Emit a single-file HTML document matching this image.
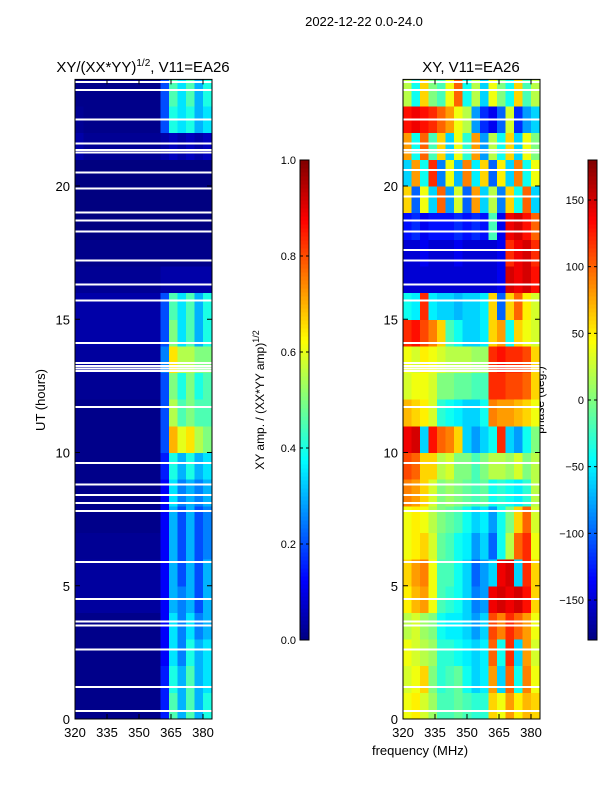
<!DOCTYPE html>
<html><head><meta charset="utf-8"><style>
body{margin:0;background:#fff;font-family:"Liberation Sans",sans-serif}
svg{display:block}
text{font-family:"Liberation Sans",sans-serif;fill:#000}
</style></head><body>
<svg id="s" width="600" height="800" xmlns="http://www.w3.org/2000/svg">
<text x="364" y="26" font-size="13" text-anchor="middle">2022-12-22 0.0-24.0</text>
<text x="143" y="72" font-size="15" text-anchor="middle">XY/(XX*YY)<tspan dy="-6" font-size="10">1/2</tspan><tspan dy="6">, V11=EA26</tspan></text>
<text x="471" y="72" font-size="15" text-anchor="middle">XY, V11=EA26</text>
<text transform="translate(45,400) rotate(-90)" font-size="13" text-anchor="middle">UT (hours)</text>
<text x="420" y="755" font-size="13" text-anchor="middle">frequency (MHz)</text>
<text transform="translate(264,400) rotate(-90)" font-size="12" text-anchor="middle">XY amp. / (XX*YY amp)<tspan dy="-5" font-size="9">1/2</tspan></text>
<text transform="translate(544,400) rotate(-90)" font-size="12" text-anchor="middle">phase (deg.)</text>
<g id="g"></g>
</svg>
<script>
const freqEdges=[320,324,328,332,336,340,344,348,352,356,360,364,368,372,376,380,384];
const hourEdges=[0,1,2,3,4,5,6,7,8,9,10,11,12,13,14,15,16,17,18,19,20,21,22,23,24];
const xTicks=[320,335,350,365,380];
const yTicks=[0,5,10,15,20];
const ampTicks=[0.0,0.2,0.4,0.6,0.8,1.0];
const phaseTicks=[-150,-100,-50,0,50,100,150];
// amplitude rows (hour 0 -> 23), 16 freq bins
const ampRows=[
[.01,.01,.01,.01,.01,.01,.01,.01,.01,.01,.15,.45,.3,.45,.3,.4],
[.01,.01,.01,.01,.01,.01,.01,.01,.01,.01,.15,.4,.3,.45,.3,.35],
[.01,.01,.01,.01,.01,.01,.01,.01,.01,.01,.12,.35,.25,.4,.3,.35],
[.01,.01,.01,.01,.01,.01,.01,.01,.01,.01,.12,.35,.25,.35,.25,.3],
[.03,.03,.03,.03,.03,.03,.03,.03,.03,.03,.12,.3,.25,.3,.2,.3],
[.03,.03,.03,.03,.03,.03,.03,.03,.03,.03,.12,.3,.2,.3,.2,.3],
[.02,.02,.02,.02,.02,.02,.02,.02,.02,.02,.12,.3,.2,.3,.2,.25],
[.01,.01,.01,.01,.01,.01,.01,.01,.01,.01,.12,.3,.2,.3,.2,.25],
[.01,.01,.01,.01,.01,.01,.01,.01,.01,.01,.12,.35,.25,.3,.25,.3],
[.01,.01,.01,.01,.01,.01,.01,.01,.01,.01,.15,.4,.3,.4,.3,.35],
[.01,.01,.01,.01,.01,.01,.01,.01,.01,.01,.2,.7,.6,.65,.55,.5],
[.01,.01,.01,.01,.01,.01,.01,.01,.01,.01,.2,.55,.45,.5,.45,.45],
[.02,.02,.02,.02,.02,.02,.02,.02,.02,.02,.2,.5,.4,.5,.4,.45],
[.03,.03,.03,.03,.03,.03,.03,.03,.03,.03,.25,.65,.55,.55,.5,.5],
[.04,.04,.04,.04,.04,.04,.04,.04,.04,.04,.2,.5,.35,.45,.3,.4],
[.04,.04,.04,.04,.04,.04,.04,.04,.04,.04,.2,.45,.35,.45,.3,.4],
[.02,.02,.02,.02,.02,.02,.02,.02,.02,.02,.04,.04,.04,.04,.04,.04],
[.01,.01,.01,.01,.01,.01,.01,.01,.01,.01,.01,.01,.01,.01,.01,.01],
[0,0,0,0,0,0,0,0,0,0,0,0,0,0,0,0],
[0,0,0,0,0,0,0,0,0,0,0,0,0,0,0,0],
[0,0,0,0,0,0,0,0,0,0,0,0,0,0,0,0],
[.04,.02,.02,.02,.02,.02,.02,.02,.02,.02,.04,.06,.04,.06,.04,.06],
[.02,.01,.01,.01,.01,.01,.01,.01,.01,.01,.2,.4,.35,.4,.3,.35],
[.01,.01,.01,.01,.01,.01,.01,.01,.01,.01,.2,.45,.35,.45,.3,.4]];
// phase rows (deg), hour 0 -> 23
const phaseRows=[
[40,50,30,10,-20,-20,-10,-20,-30,-30,60,40,80,50,70,60],
[30,40,60,0,-30,-20,-10,-40,-60,-50,80,-60,100,-40,90,40],
[40,30,20,10,-30,-30,-40,-50,-60,-50,100,-40,120,-60,80,30],
[20,30,10,0,-40,-50,-50,-60,-80,-60,110,90,120,100,80,40],
[50,70,80,40,-20,-30,-40,-60,-90,-80,140,150,140,150,130,60],
[60,80,90,40,-20,-20,-40,-60,-100,-80,-60,140,150,-60,120,60],
[40,50,60,30,-10,-20,-40,-50,-80,-60,-100,-40,20,100,120,40],
[40,50,40,20,0,-10,-20,-40,-60,-50,-80,-40,0,60,100,30],
[90,80,60,30,0,10,0,-10,-20,-10,-40,-30,-40,-50,-30,20],
[110,100,60,60,20,30,0,0,-20,0,20,20,10,30,0,20],
[140,150,-60,130,100,90,60,-60,-80,-60,-40,120,-60,-80,-40,0],
[70,60,50,30,-30,-40,-50,-60,-60,-40,90,80,80,70,60,40],
[30,40,40,30,0,0,-10,-10,-20,-20,120,120,110,110,100,60],
[40,30,50,40,30,20,20,20,10,10,120,130,120,120,110,60],
[120,130,110,90,60,-20,-40,-60,-60,-50,60,80,-40,60,40,30],
[-40,-50,120,-50,-60,-60,-70,-60,-60,-50,60,-100,60,100,50,30],
[-150,-150,-150,-150,-150,-150,-150,-150,-150,-150,-150,-140,150,140,150,130],
[-150,-150,-140,-150,-150,-150,-140,-150,-150,-150,-150,-140,120,140,150,120],
[-130,-120,-140,-130,-130,-130,-120,-130,-120,-130,-20,-140,140,150,130,100],
[60,-100,40,-60,100,-80,30,-100,80,-60,20,-90,60,-40,100,-60],
[-60,80,-40,120,-90,40,-70,90,-50,60,-100,50,-60,90,-40,40],
[80,-40,100,-20,60,-60,40,-30,80,-80,20,-40,60,-60,40,0],
[130,140,130,120,100,80,40,20,-80,-120,-140,-100,30,-120,-80,-60],
[20,-40,60,0,-20,40,100,-40,20,-60,40,0,-40,60,-20,20]];
const ampGaps=[0.3,1.2,2.6,3.5,3.65,4.5,5.9,7.8,8.1,8.4,8.8,9.6,11.7,13.05,13.15,13.25,13.35,14.1,15.7,16.3,17.2,18.3,18.7,19.0,19.9,20.5,21.25,21.35,21.6,22.5,23.6,23.9];
const phaseGaps=[0.3,1.2,2.6,3.5,3.65,4.5,5.9,7.8,8.1,8.4,8.8,9.6,11.7,13.05,13.15,13.25,13.35,14.1,15.7,16.3,17.2,17.6,18.3,18.7,19.6,20.6,21.25,21.35,21.6,22.5,23.6,23.9];

const NS='http://www.w3.org/2000/svg';
const g=document.getElementById('g');
function el(t,a,p){const e=document.createElementNS(NS,t);for(const k in a)e.setAttribute(k,a[k]);(p||g).appendChild(e);return e;}
function jet(v){v=Math.max(0,Math.min(1,v));
 const r=Math.max(0,Math.min(1,1.5-Math.abs(4*v-3))),gg=Math.max(0,Math.min(1,1.5-Math.abs(4*v-2))),b=Math.max(0,Math.min(1,1.5-Math.abs(4*v-1)));
 return `rgb(${Math.round(r*255)},${Math.round(gg*255)},${Math.round(b*255)})`;}
const Y0=719,YH=(719-186)/20;
const yScale=h=>Y0-h*YH;
function panel(x0,rows,norm,gaps,name){
 const xScale=f=>x0+(f-320)*128/60;
 const grp=el('g',{'shape-rendering':'crispEdges'});
 
 
 rows.forEach((row,i)=>{row.forEach((v,j)=>{
  const x1=xScale(freqEdges[j]),x2=xScale(freqEdges[j+1]),y1=yScale(hourEdges[i+1]),y2=yScale(hourEdges[i]);
  const r=el('rect',{x:x1,y:y1,width:x2-x1+0.5,height:y2-y1+0.5,fill:jet(norm(v))},grp);
  
  
 });});
 gaps.forEach(h=>{const r=el('rect',{x:x0,y:yScale(h)-1,width:137,height:2,fill:'#fff'},grp);
  
  });
 const f=el('rect',{x:x0,y:yScale(24),width:137,height:yScale(0)-yScale(24),fill:'none',stroke:'#000','stroke-width':1});
 
 
 xTicks.forEach(t=>{const x=xScale(t);
  el('line',{x1:x,x2:x,y1:719,y2:714,stroke:'#000'});el('line',{x1:x,x2:x,y1:yScale(24),y2:yScale(24)+5,stroke:'#000'});
  const tx=el('text',{x:x,y:737,'font-size':13,'text-anchor':'middle'});tx.textContent=t;
  
  });
 yTicks.forEach(t=>{const y=yScale(t);
  el('line',{x1:x0,x2:x0+5,y1:y,y2:y,stroke:'#000'});el('line',{x1:x0+137,x2:x0+132,y1:y,y2:y,stroke:'#000'});
  const tx=el('text',{x:x0-5,y:y+5,'font-size':13,'text-anchor':'end'});tx.textContent=t;
  
  });
}
panel(75,ampRows,v=>v,ampGaps,'amplitude');
panel(403,phaseRows,v=>(v+180)/360,phaseGaps,'phase');
function cbar(x,ticks,lo,hi,name,fmt){
 const grp=el('g',{'shape-rendering':'crispEdges'});
 
 
 for(let i=0;i<120;i++){el('rect',{x:x,y:640-(i+1)*4,width:9,height:4.5,fill:jet((i+0.5)/120)},grp);}
 el('rect',{x:x,y:160,width:9,height:480,fill:'none',stroke:'#000'},grp);
 ticks.forEach(t=>{const y=640-(t-lo)/(hi-lo)*480;
  el('line',{x1:x,x2:x+3,y1:y,y2:y,stroke:'#000'});el('line',{x1:x+9,x2:x+6,y1:y,y2:y,stroke:'#000'});
  const tx=el('text',{x:x-4,y:y+4,'font-size':11,'text-anchor':'end'});tx.textContent=fmt(t);
  
  });
}
cbar(300,ampTicks,0,1,'amp-colorbar',t=>t.toFixed(1));
cbar(588,phaseTicks,-180,180,'phase-colorbar',t=>t<0?'\u2212'+(-t):''+t);
</script>
</body></html>
